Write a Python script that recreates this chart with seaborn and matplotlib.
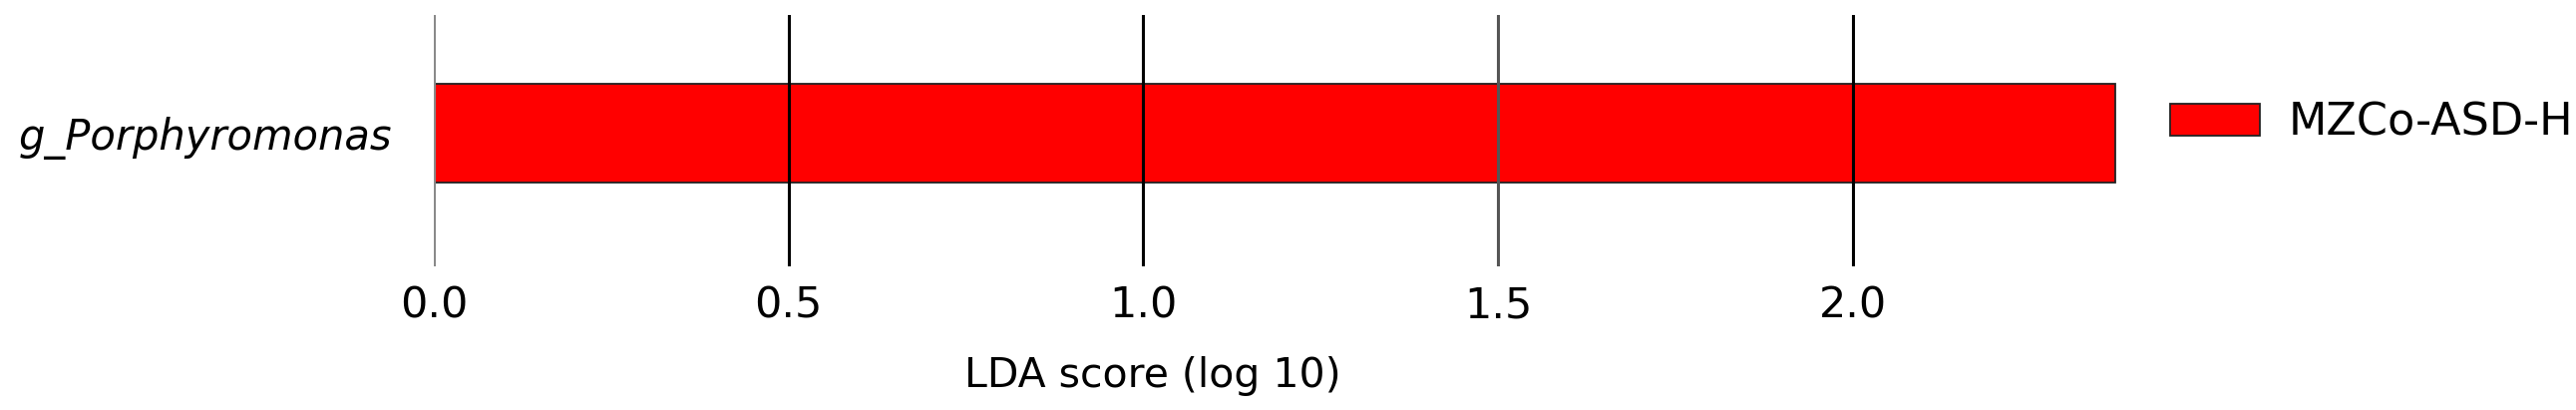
import numpy as np
import pandas as pd
import matplotlib
matplotlib.use("Agg")
import matplotlib.pyplot as plt
import seaborn as sns

# LEfSe result
features = ["g_Porphyromonas"]
lda_scores = [2.37]
groups = ["MZCo-ASD-H"]
group_colors = {"MZCo-ASD-H": "#ff0000"}
xticks = [0.0, 0.5, 1.0, 1.5, 2.0]

df = pd.DataFrame({"feature": features, "lda": lda_scores, "group": groups})

sns.set_style("white")
plt.rcParams['font.family'] = ['DejaVu Sans']
plt.rcParams['text.color'] = 'black'
plt.rcParams['xtick.color'] = 'black'
plt.rcParams['ytick.color'] = 'black'
plt.rcParams['axes.labelcolor'] = 'black'

fig = plt.figure(figsize=(25.83, 4.11), dpi=100)
ax = fig.add_axes([0.1684, 0.350, 0.6611, 0.6135])

sns.barplot(data=df, x="lda", y="feature", hue="group", palette=group_colors,
            dodge=False, width=0.39, saturation=1, edgecolor="#222222",
            linewidth=1.3, ax=ax, legend=True)

ax.set_xlim(0, 2.4)
ax.set_ylim(0.53, -0.47)
ax.set_xticks(xticks)
ax.set_xticklabels([f"{t:.1f}" for t in xticks])

# vertical grid lines on top of the bar
ax.set_axisbelow(False)
ax.grid(axis="x", color="black", linewidth=2.2)
ax.grid(axis="y", visible=False)
gl = ax.get_xgridlines()
gl[0].set_color("#8a8a8a")
gl[3].set_color("#555555")

for s in ax.spines.values():
    s.set_visible(False)

ax.tick_params(axis="x", length=0, pad=13, labelsize=31)
ax.tick_params(axis="y", length=0, pad=30, labelsize=30)
for lab in ax.get_yticklabels():
    lab.set_fontstyle("italic")

ax.set_ylabel("")
ax.set_xlabel("LDA score (log 10)", fontsize=29.5)
ax.xaxis.set_label_coords(0.422, -0.357)

handles, labels = ax.get_legend_handles_labels()
ax.get_legend().remove()
leg = fig.legend(handles, labels, loc="center left",
                 bbox_to_anchor=(2176 / 2583, 1 - 123 / 411),
                 frameon=False, fontsize=32, borderpad=0, borderaxespad=0,
                 handlelength=2.03, handleheight=0.72, handletextpad=0.65)
for p in leg.get_patches():
    p.set_edgecolor("#222222")
    p.set_linewidth(1.3)

fig.savefig("out.png", dpi=100)
